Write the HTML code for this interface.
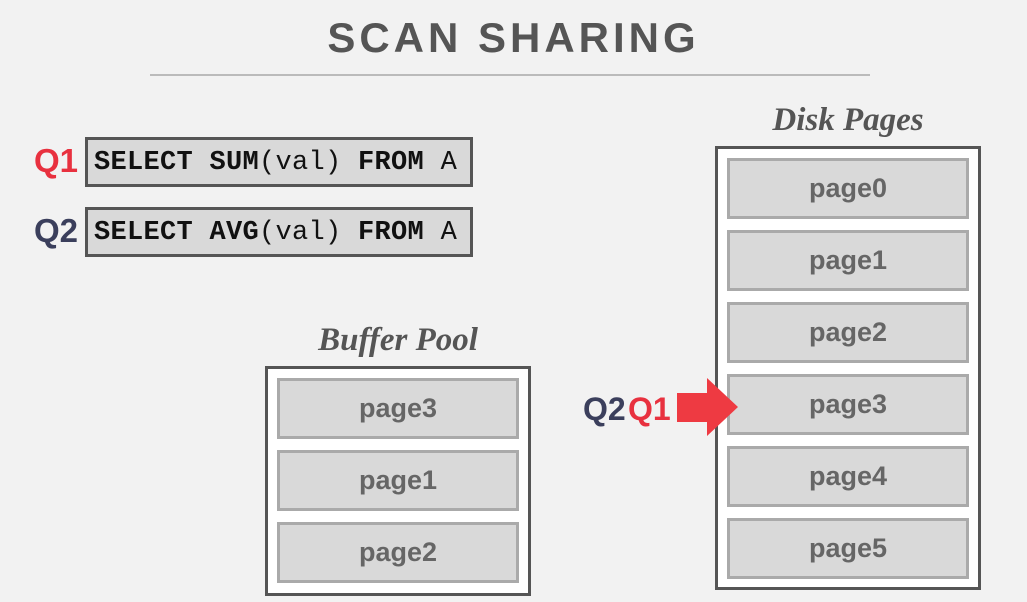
<!DOCTYPE html>
<html><head><style>
body{margin:0;width:1027px;height:602px;background:#f2f2f2;position:relative;overflow:hidden;font-family:"Liberation Sans",sans-serif}
.a{position:absolute}
.title{left:0;width:1027px;top:14px;text-align:center;font-size:42px;font-weight:bold;color:#555;letter-spacing:4px}
.q{border:3px solid #555;background:#d9d9d9;left:85px;height:44px;font-family:"Liberation Mono",monospace;font-weight:bold;font-size:27px;line-height:46px;padding-left:6px;box-sizing:content-box;color:#111;letter-spacing:0.3px}
.q span{font-weight:normal}
.lbl{font-size:33px;font-weight:bold}
.box{border:3px solid #555;background:#fff}
.pg{background:#d9d9d9;border:3px solid #aaa;width:236px;height:55px;text-align:center;line-height:55px;font-size:27px;font-weight:bold;color:#666;position:absolute}
.st{font-family:"Liberation Serif",serif;font-style:italic;font-weight:bold;font-size:33px;color:#555;text-align:center}
</style></head><body>
<div class="a title">SCAN SHARING</div>
<div class="a" style="left:150px;top:74px;width:720px;height:2px;background:#bbb"></div>
<div class="a lbl" style="left:34px;top:142px;color:#e8313f">Q1</div>
<div class="a lbl" style="left:34px;top:212px;color:#3b3f5c">Q2</div>
<div class="a q" style="top:137px;width:376px">SELECT SUM<span>(val)</span> FROM <span>A</span></div>
<div class="a q" style="top:207px;width:376px">SELECT AVG<span>(val)</span> FROM <span>A</span></div>
<div class="a st" style="left:265px;width:266px;top:322px">Buffer Pool</div>
<div class="a box" style="left:265px;top:366px;width:260px;height:224px">
<div class="pg" style="left:9px;top:9px">page3</div>
<div class="pg" style="left:9px;top:81px">page1</div>
<div class="pg" style="left:9px;top:153px">page2</div>
</div>
<div class="a st" style="left:715px;width:266px;top:102px">Disk Pages</div>
<div class="a box" style="left:715px;top:146px;width:260px;height:438px">
<div class="pg" style="left:9px;top:9px">page0</div>
<div class="pg" style="left:9px;top:81px">page1</div>
<div class="pg" style="left:9px;top:153px">page2</div>
<div class="pg" style="left:9px;top:225px">page3</div>
<div class="pg" style="left:9px;top:297px">page4</div>
<div class="pg" style="left:9px;top:369px">page5</div>
</div>
<div class="a lbl" style="left:583px;top:391px;color:#3b3f5c;font-size:32px">Q2</div>
<div class="a lbl" style="left:628px;top:391px;color:#e8313f;font-size:32px">Q1</div>
<svg class="a" style="left:670px;top:374px" width="75" height="66"><polygon points="7,19 37,19 37,4 68,33 37,62 37,48 7,48" fill="#ee3a42"/></svg>
</body></html>
